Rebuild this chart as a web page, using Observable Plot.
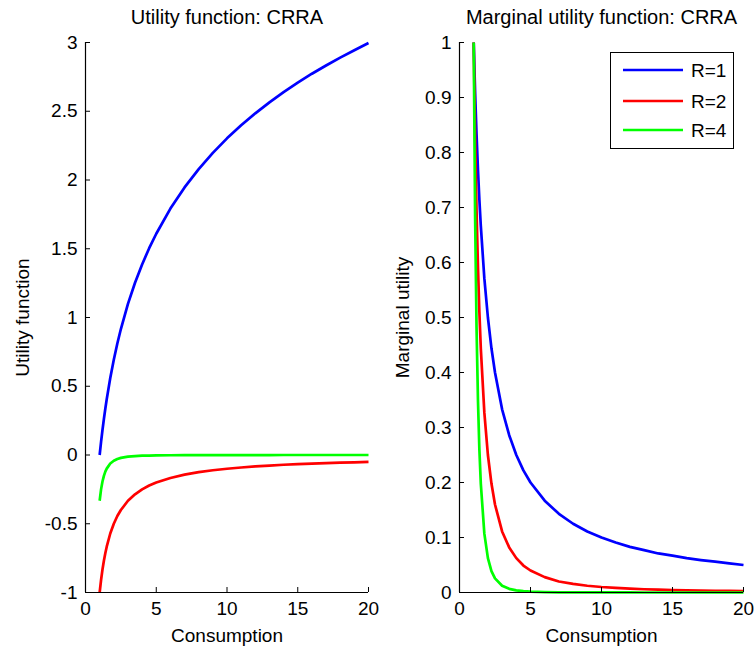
<!DOCTYPE html>
<html>
<head>
<meta charset="utf-8">
<script src="https://cdn.jsdelivr.net/npm/d3@7"></script>
<script src="https://cdn.jsdelivr.net/npm/@observablehq/plot@0.6"></script>
<style>
  body { margin: 0; background: #fff; }
  #chart { position: relative; width: 754px; height: 649px; font-family: "Liberation Sans", Arial, sans-serif; }
  #chart svg { position: absolute; top: 0; }
  #legend { position: absolute; left: 610px; top: 52px; width: 122px; height: 95px; border: 1.5px solid #000; background: #fff; }
</style>
</head>
<body>
<div id="chart"></div>
<script>
// ---- data ----
const consumption = [1, 1.1, 1.2, 1.3, 1.4, 1.5, 1.75, 2, 2.25, 2.5, 3, 3.5, 4, 4.5, 5, 6, 7, 8, 9, 10, 11, 12, 13, 14, 15, 16, 17, 18, 19, 20];
const series = ["R=1", "R=2", "R=4"];
const seriesColors = ["#0000ff", "#ff0000", "#00ff00"];

const utilR1 = [0, 0.095, 0.182, 0.262, 0.336, 0.405, 0.560, 0.693, 0.811, 0.916, 1.099, 1.253, 1.386, 1.504, 1.609, 1.792, 1.946, 2.079, 2.197, 2.303, 2.398, 2.485, 2.565, 2.639, 2.708, 2.773, 2.833, 2.890, 2.944, 2.996];
const utilR2 = [-1, -0.909, -0.833, -0.769, -0.714, -0.667, -0.571, -0.5, -0.444, -0.4, -0.333, -0.286, -0.25, -0.222, -0.2, -0.167, -0.143, -0.125, -0.111, -0.1, -0.091, -0.083, -0.077, -0.071, -0.067, -0.0625, -0.059, -0.056, -0.053, -0.05];
const utilR4 = [-0.333, -0.250, -0.193, -0.152, -0.121, -0.099, -0.062, -0.042, -0.029, -0.021, -0.012, -0.008, -0.005, -0.004, -0.003, -0.002, -0.001, -0.0007, -0.0005, -0.0003, -0.0003, -0.0002, -0.0002, -0.0001, -0.0001, -0.0001, -0.0001, -0.0001, 0, 0];

const margR1 = [1, 0.909, 0.833, 0.769, 0.714, 0.667, 0.571, 0.5, 0.444, 0.4, 0.333, 0.286, 0.25, 0.222, 0.2, 0.167, 0.143, 0.125, 0.111, 0.1, 0.091, 0.083, 0.077, 0.071, 0.067, 0.0625, 0.059, 0.056, 0.053, 0.05];
const margR2 = [1, 0.826, 0.694, 0.592, 0.510, 0.444, 0.327, 0.25, 0.198, 0.16, 0.111, 0.082, 0.0625, 0.049, 0.04, 0.028, 0.020, 0.0156, 0.0123, 0.01, 0.0083, 0.0069, 0.0059, 0.0051, 0.0044, 0.0039, 0.0035, 0.0031, 0.0028, 0.0025];
const margR4 = [1, 0.683, 0.482, 0.350, 0.260, 0.198, 0.107, 0.0625, 0.039, 0.0256, 0.0123, 0.0067, 0.0039, 0.0024, 0.0016, 0.0008, 0.0004, 0.0002, 0.00015, 0.0001, 0.00007, 0.00005, 0.000035, 0.000026, 0.00002, 0.000015, 0.000012, 0.00001, 0.000008, 0.000006];

const xTicks = [0, 5, 10, 15, 20];
const utilTicks = [-1, -0.5, 0, 0.5, 1, 1.5, 2, 2.5, 3];
const margTicks = [0, 0.1, 0.2, 0.3, 0.4, 0.5, 0.6, 0.7, 0.8, 0.9, 1];

const titles = ["Utility function: CRRA", "Marginal utility function: CRRA"];
const yLabels = ["Utility function", "Marginal utility"];
const xLabel = "Consumption";

// ---- build tables ----
function table(cols) {
  const rows = [];
  cols.forEach((vals, i) => vals.forEach((v, j) => rows.push({c: consumption[j], v, s: series[i]})));
  return rows;
}
const utilData = table([utilR1, utilR2, utilR4]);
const margData = table([margR1, margR2, margR4]);

const font = '"Liberation Sans", Arial, sans-serif';

function panel({data, yDomain, yTicks, title, yLabel, marginLeft, marginRight, yLabelDx}) {
  return Plot.plot({
    width: 377, height: 649,
    marginLeft, marginRight, marginTop: 42, marginBottom: 57,
    style: {fontFamily: font, fontSize: "19px", color: "#000", background: "transparent", overflow: "visible"},
    x: {domain: [0, 20], axis: null},
    y: {domain: yDomain, axis: null},
    color: {domain: series, range: seriesColors},
    marks: [
      Plot.line(data, {x: "c", y: "v", z: "s", stroke: "s", strokeWidth: 2.7, strokeLinejoin: "round", strokeLinecap: "butt"}),
      Plot.ruleX([0], {stroke: "#000", strokeWidth: 1.2}),
      Plot.ruleY([yDomain[0]], {stroke: "#000", strokeWidth: 1.2}),
      Plot.axisY(yTicks, {anchor: "left", tickSize: -5, tickFormat: () => "", stroke: "#000", label: null}),
      Plot.axisY(yTicks, {anchor: "left", tickSize: 0, tickPadding: 8, tickFormat: d => String(d), fontSize: 19, fill: "#000", label: null}),
      Plot.axisX(xTicks, {anchor: "bottom", tickSize: -5, tickFormat: () => "", stroke: "#000", label: null}),
      Plot.axisX(xTicks, {anchor: "bottom", tickSize: 0, tickPadding: 9, tickFormat: d => String(d), fontSize: 19, fill: "#000", label: null}),
      Plot.text([title], {frameAnchor: "top", dy: -25, lineAnchor: "middle", textAnchor: "middle", fontSize: 20, fill: "#000"}),
      Plot.text([xLabel], {frameAnchor: "bottom", dy: 43, lineAnchor: "middle", textAnchor: "middle", fontSize: 19, fill: "#000"}),
      Plot.text([yLabel], {frameAnchor: "left", dx: yLabelDx, rotate: -90, lineAnchor: "middle", textAnchor: "middle", fontSize: 19, fill: "#000"})
    ]
  });
}

const chart = document.getElementById("chart");
const left = panel({data: utilData, yDomain: [-1, 3], yTicks: utilTicks, title: titles[0], yLabel: yLabels[0], marginLeft: 85, marginRight: 9, yLabelDx: -63});
left.style.left = "0px";
const right = panel({data: margData, yDomain: [0, 1], yTicks: margTicks, title: titles[1], yLabel: yLabels[1], marginLeft: 82, marginRight: 11, yLabelDx: -57});
right.style.left = "377px";
chart.appendChild(left);
chart.appendChild(right);

// legend
const legend = document.createElement("div");
legend.id = "legend";
const ns = "http://www.w3.org/2000/svg";
const lsvg = document.createElementNS(ns, "svg");
lsvg.setAttribute("width", 122); lsvg.setAttribute("height", 95);
lsvg.style.position = "static";
const rowY = [17, 48, 77];
series.forEach((s, i) => {
  const ln = document.createElementNS(ns, "line");
  ln.setAttribute("x1", 12); ln.setAttribute("x2", 72);
  ln.setAttribute("y1", rowY[i]); ln.setAttribute("y2", rowY[i]);
  ln.setAttribute("stroke", seriesColors[i]); ln.setAttribute("stroke-width", 2.7);
  lsvg.appendChild(ln);
  const tx = document.createElementNS(ns, "text");
  tx.setAttribute("x", 80); tx.setAttribute("y", rowY[i]);
  tx.setAttribute("dy", "0.35em");
  tx.setAttribute("font-size", 19); tx.setAttribute("font-family", font);
  tx.textContent = s;
  lsvg.appendChild(tx);
});
legend.appendChild(lsvg);
chart.appendChild(legend);
</script>
</body>
</html>
